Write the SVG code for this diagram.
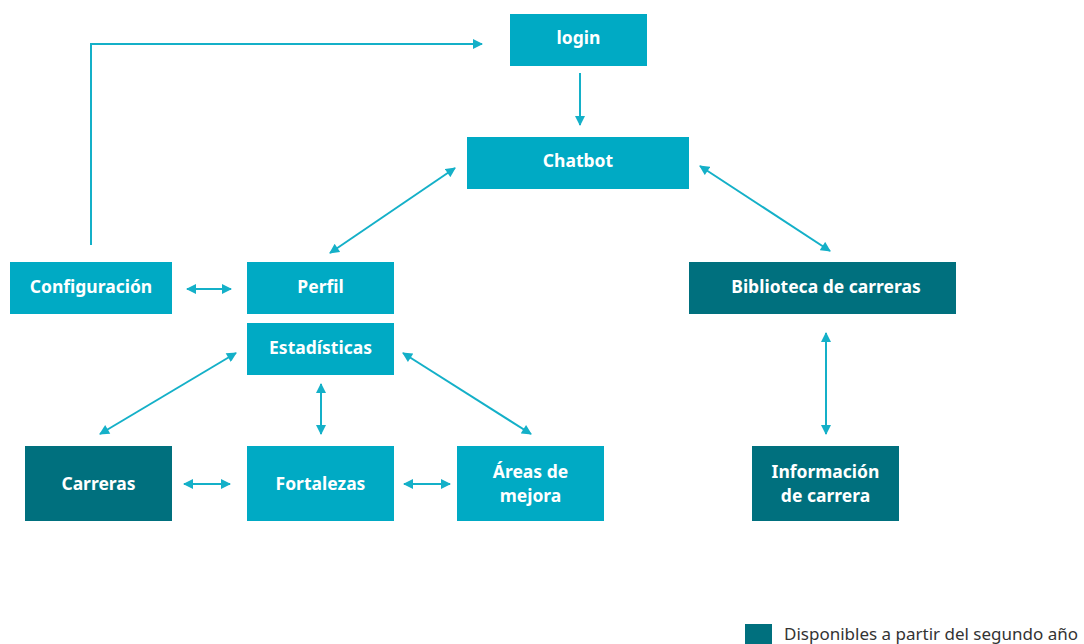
<svg xmlns="http://www.w3.org/2000/svg" width="1084" height="644" viewBox="0 0 1084 644">
<style>
.l{fill:#00aac4}
.d{fill:#00707e}
.t{font-family:"Noto Sans","Open Sans",sans-serif;font-weight:bold;font-size:17.5px;fill:#fff;text-anchor:middle}
.c{stroke:#14b0c8;stroke-width:2;fill:none}
</style>
<defs>
<marker id="a" viewBox="0 0 10 10" refX="9" refY="5" markerWidth="11" markerHeight="10" markerUnits="userSpaceOnUse" orient="auto-start-reverse">
<path d="M0,0 L10,5 L0,10 Z" fill="#14b0c8"/>
</marker>
</defs>
<rect width="1084" height="644" fill="#fff"/>
<g id="connectors">
<path class="c" d="M91,245 V44 H482" marker-end="url(#a)"/>
<path class="c" d="M580,73 V125" marker-end="url(#a)"/>
<path class="c" d="M455,168 L330,253" marker-start="url(#a)" marker-end="url(#a)"/>
<path class="c" d="M700,166 L830,251" marker-start="url(#a)" marker-end="url(#a)"/>
<path class="c" d="M187,289 H231" marker-start="url(#a)" marker-end="url(#a)"/>
<path class="c" d="M236,353 L100,434" marker-start="url(#a)" marker-end="url(#a)"/>
<path class="c" d="M321,384 V434" marker-start="url(#a)" marker-end="url(#a)"/>
<path class="c" d="M403,353 L531,434" marker-start="url(#a)" marker-end="url(#a)"/>
<path class="c" d="M184,484 H230" marker-start="url(#a)" marker-end="url(#a)"/>
<path class="c" d="M404,484 H450" marker-start="url(#a)" marker-end="url(#a)"/>
<path class="c" d="M826,333 V434" marker-start="url(#a)" marker-end="url(#a)"/>
</g>
<g id="login"><rect class="l" x="510" y="14" width="137" height="52"/><text class="t" x="578.5" y="44">login</text></g>
<g id="chatbot"><rect class="l" x="467" y="137" width="222" height="52"/><text class="t" x="578" y="167">Chatbot</text></g>
<g id="configuracion"><rect class="l" x="10" y="262" width="162" height="52"/><text class="t" x="91" y="293">Configuración</text></g>
<g id="perfil"><rect class="l" x="247" y="262" width="147" height="52"/><text class="t" x="320.5" y="293">Perfil</text></g>
<g id="estadisticas"><rect class="l" x="247" y="323" width="147" height="52"/><text class="t" x="320.5" y="354">Estadísticas</text></g>
<g id="carreras"><rect class="d" x="25" y="446" width="147" height="75"/><text class="t" x="98.5" y="490">Carreras</text></g>
<g id="fortalezas"><rect class="l" x="247" y="446" width="147" height="75"/><text class="t" x="320.5" y="490">Fortalezas</text></g>
<g id="areas"><rect class="l" x="457" y="446" width="147" height="75"/><text class="t" x="530.5" y="478">Áreas de</text><text class="t" x="530.5" y="502">mejora</text></g>
<g id="biblioteca"><rect class="d" x="689" y="262" width="267" height="52"/><text class="t" x="826" y="293">Biblioteca de carreras</text></g>
<g id="informacion"><rect class="d" x="752" y="446" width="147" height="75"/><text class="t" x="825.5" y="478">Información</text><text class="t" x="825.5" y="502">de carrera</text></g>
<g id="legend"><rect class="d" x="745" y="624" width="27" height="20"/><text x="784" y="640" font-family="'Noto Sans','Open Sans',sans-serif" font-size="17" fill="#333">Disponibles a partir del segundo año</text></g>
</svg>
